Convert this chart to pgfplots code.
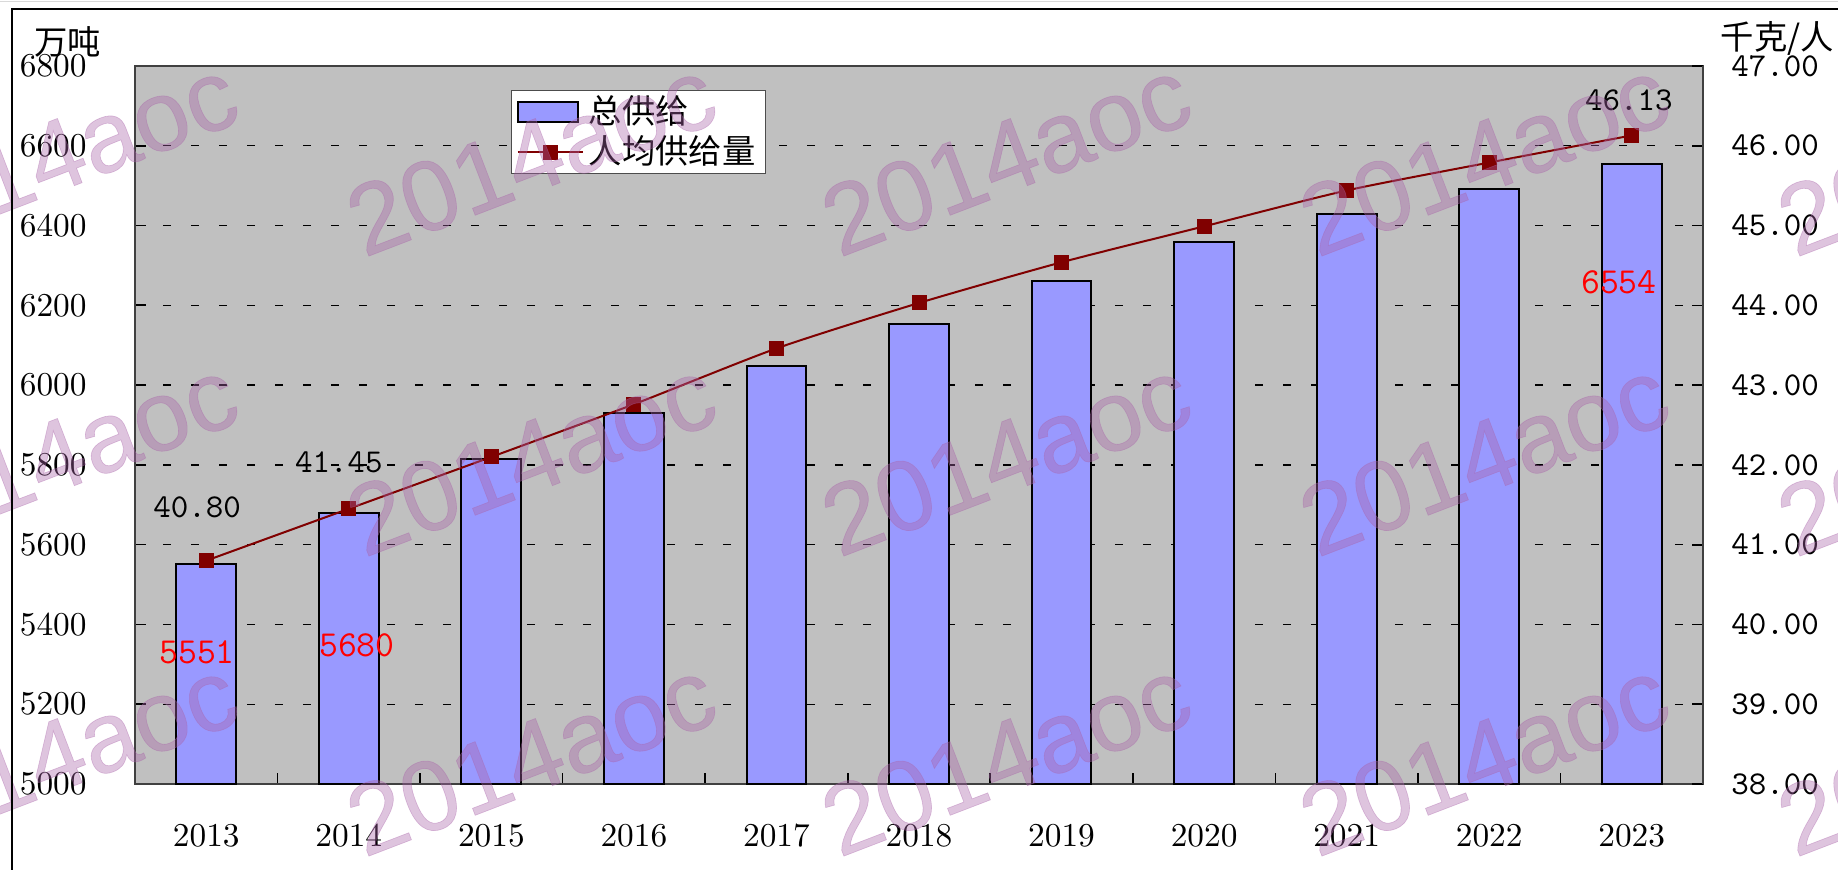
\documentclass[border=0pt]{standalone}
\usepackage{pgfplots}
\usepackage{pgfplotstable}
\pgfplotsset{compat=1.18}
\usepackage{fontspec}
\newfontfamily\cjk{Noto Sans CJK SC}
\newfontfamily\wmfont{Liberation Sans}[FakeBold=0.6]
\definecolor{barfill}{RGB}{153,153,255}
\definecolor{linered}{RGB}{128,0,0}
\definecolor{plotbg}{RGB}{192,192,192}
\definecolor{wmcol}{RGB}{170,100,170}
\pgfplotsset{
  mybarlegend/.style={legend image code/.code={\draw[##1] (0pt,-3pt) rectangle (18pt,3pt);}},
  mylinelegend/.style={legend image code/.code={\draw[mark repeat=2, mark phase=2, ##1] plot coordinates {(0pt,0pt) (9.75pt,0pt) (19.5pt,0pt)};}},
}
\pgfplotstableread{
x bar per
0 5551 40.80
1 5680 41.45
2 5815 42.10
3 5929 42.76
4 6047 43.46
5 6153 44.03
6 6262 44.54
7 6359 44.99
8 6429 45.44
9 6491 45.79
10 6554 46.13
}\datatable
\newcommand{\wm}{\wmfont\fontsize{30}{30}\selectfont 2014aoc}
\begin{document}
\begin{tikzpicture}
\useasboundingbox (0,0) rectangle (551.4pt,-261pt);
\clip (0,0) rectangle (551.4pt,-261pt);
\fill[white] (0,0) rectangle (551.4pt,-261pt);
\begin{axis}[
  at={(40.5pt,-235.2pt)}, anchor=south west,
  scale only axis, width=470.4pt, height=215.4pt,
  xmin=-0.5, xmax=10.5, ymin=5000, ymax=6800,
  axis background/.style={fill=plotbg},
  axis line style={black!75, line width=0.5pt},
  tick align=inside, tick pos=left,
  xtick={0,...,10},
  xticklabels={2013,2014,2015,2016,2017,2018,2019,2020,2021,2022,2023},
  major x tick style={draw=none},
  minor xtick={0.5,1.5,...,9.5},
  minor tick length=3.4pt,
  major tick length=3.4pt,
  xticklabel style={yshift=-8.5pt},
  ytick={5000,5200,...,6800},
  yticklabel style={xshift=-11pt},
  /pgf/number format/1000 sep={},
  ymajorgrids,
  grid style={black, line width=0.4pt, dash pattern=on 2.4pt off 6pt},
  tick style={black, line width=0.5pt},
  clip=false,
]
\addplot[ybar, bar width=0.42, fill=barfill, draw=black, line width=0.6pt] table[x=x,y=bar] {\datatable};
\node[text=red, font=\fontsize{11}{13}\selectfont\ttfamily] at (axis cs:-0.065,5331) {5551};
\node[text=red, font=\fontsize{11}{13}\selectfont\ttfamily] at (axis cs:1.057,5348) {5680};
\node[text=red, font=\fontsize{11}{13}\selectfont\ttfamily] at (axis cs:9.91,6258) {6554};
\end{axis}
\begin{axis}[
  at={(40.5pt,-235.2pt)}, anchor=south west,
  scale only axis, width=470.4pt, height=215.4pt,
  xmin=-0.5, xmax=10.5, ymin=38, ymax=47,
  axis x line=none, axis y line*=right,
  axis line style={black!75, line width=0.5pt},
  tick align=inside, major tick length=3.4pt,
  tick style={black, line width=0.5pt},
  ytick={38,39,40,41,42,43,44,45,46,47},
  yticklabels={38.00,39.00,40.00,41.00,42.00,43.00,44.00,45.00,46.00,47.00},
  yticklabel style={font=\ttfamily, xshift=5pt},
  legend style={at={(0.2398,0.9666)}, anchor=north west, draw=black!70, fill=white,
    font=\cjk, inner xsep=1.5pt, inner ysep=0.9pt, row sep=1.3pt,
    nodes={inner xsep=1.5pt, inner ysep=0.5pt}},
  legend cell align=left,
  clip=false,
]
\addlegendimage{fill=barfill, draw=black, line width=0.6pt, mybarlegend}
\addlegendentry{总供给}
\addplot[linered, line width=0.6pt, smooth, tension=0.4, mark=square*, mark size=1.95pt,
  mark options={solid, fill=linered}, mylinelegend]
  table[x=x,y=per] {\datatable};
\addlegendentry{人均供给量}
\node[font=\ttfamily] at (axis cs:-0.065,41.47) {40.80};
\node[font=\ttfamily] at (axis cs:0.931,42.035) {41.45};
\node[font=\ttfamily] at (axis cs:9.98,46.57) {46.13};
\end{axis}
\node[font=\cjk] at (20.4pt,-12.6pt) {万吨};
\node[font=\cjk, anchor=west, inner sep=0pt] at (516pt,-11.4pt) {千克/人};
\foreach \xx in {15.9,159.3,301.8,445.2,588.6}{
  \foreach \yy in {-47.1,-137.1,-227.1}{
    \node[rotate=21, text=wmcol, text opacity=0.38, inner sep=0pt] at (\xx pt,\yy pt) {\wm};
  }
}
\draw[black, line width=0.45pt] (3.6pt,-261pt) -- (3.6pt,-2.7pt) -- (551.4pt,-2.7pt);
\draw[black!15, line width=0.3pt] (0pt,-0.6pt) -- (551.4pt,-0.6pt);
\end{tikzpicture}
\end{document}
